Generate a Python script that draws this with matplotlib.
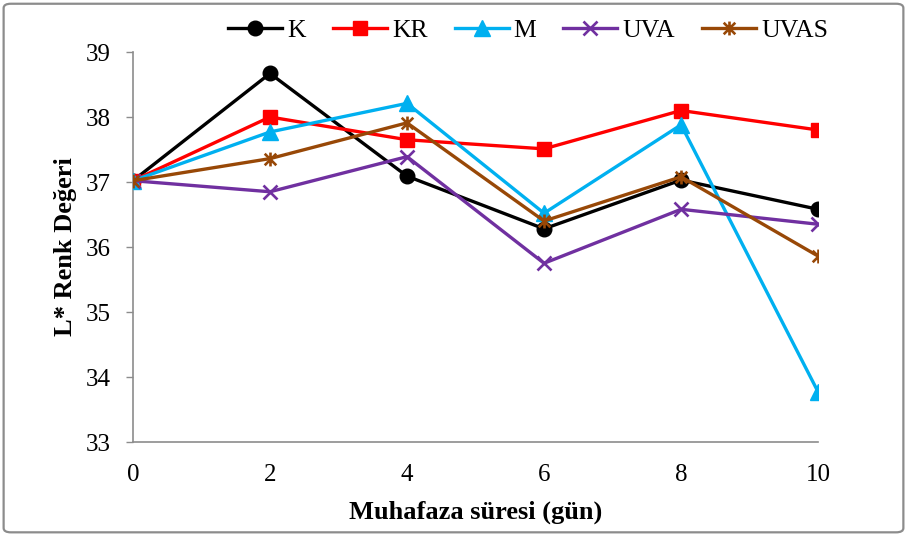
import matplotlib.pyplot as plt
from matplotlib.patches import FancyBboxPatch
from matplotlib.path import Path

# storage days and L* colour values per treatment
days = [0, 2, 4, 6, 8, 10]
k_vals = [37.02, 38.67, 37.09, 36.28, 37.03, 36.58]
kr_vals = [37.02, 38.00, 37.65, 37.51, 38.10, 37.80]
m_vals = [37.02, 37.77, 38.21, 36.52, 37.88, 33.77]
uva_vals = [37.02, 36.85, 37.39, 35.75, 36.58, 36.35]
uvas_vals = [37.02, 37.36, 37.91, 36.40, 37.08, 35.86]

plt.rcParams['font.family'] = ['Liberation Serif', 'DejaVu Serif']

# star marker: an x with a vertical bar through it
star = Path([(-1, -1), (1, 1), (-1, 1), (1, -1), (0, -1.2), (0, 1.2)],
            [Path.MOVETO, Path.LINETO, Path.MOVETO, Path.LINETO, Path.MOVETO, Path.LINETO])

fig = plt.figure(figsize=(9.07, 5.35), dpi=100)
ax = fig.add_axes([0.1466, 0.1738, 0.7554, 0.729])

# rounded frame round the whole figure
frame = FancyBboxPatch((0.004, 0.005), 0.992, 0.988, boxstyle='round,pad=0,rounding_size=0.008',
                       transform=fig.transFigure, fill=False, edgecolor='#8c8c8c', linewidth=1.6)
fig.patches.append(frame)

lw = 2.4
ax.plot(days, k_vals, color='black', marker='o', markersize=10.5, lw=lw, label='K', zorder=3)
ax.plot(days, kr_vals, color='#ff0000', marker='s', markersize=10, lw=lw, label='KR', zorder=3)
ax.plot(days, m_vals, color='#00b0f0', marker='^', markersize=11, lw=lw, label='M', zorder=3)
ax.plot(days, uva_vals, color='#7030a0', marker='x', markersize=10, markeredgewidth=1.9, lw=lw,
        label='UVA', zorder=3)
ax.plot(days, uvas_vals, color='#984807', marker=star, markersize=10, markeredgewidth=1.9, lw=lw,
        label='UVAS', zorder=3)

ax.set_xlim(0, 10)
ax.set_ylim(33, 39)
ax.set_xticks(days)
ax.set_yticks(range(33, 40))
ax.tick_params(axis='x', length=0, pad=16, labelsize=18)
ax.tick_params(axis='y', length=5, width=1, color='#8c8c8c', pad=11, labelsize=18)

for s in ['top', 'right']:
    ax.spines[s].set_visible(False)
for s in ['left', 'bottom']:
    ax.spines[s].set_color('#8c8c8c')
    ax.spines[s].set_linewidth(1.2)

ax.set_xlabel('Muhafaza süresi (gün)', fontsize=19, fontweight='bold', labelpad=10)
ax.set_ylabel('L* Renk Değeri', fontsize=19, fontweight='bold', labelpad=6)

ax.legend(loc='center', bbox_to_anchor=(0.577, 1.055), ncol=5, frameon=False, fontsize=18.5,
          handlelength=2.1, handletextpad=0.2, columnspacing=1.05, borderaxespad=0)

fig.savefig('out.png', dpi=100)
